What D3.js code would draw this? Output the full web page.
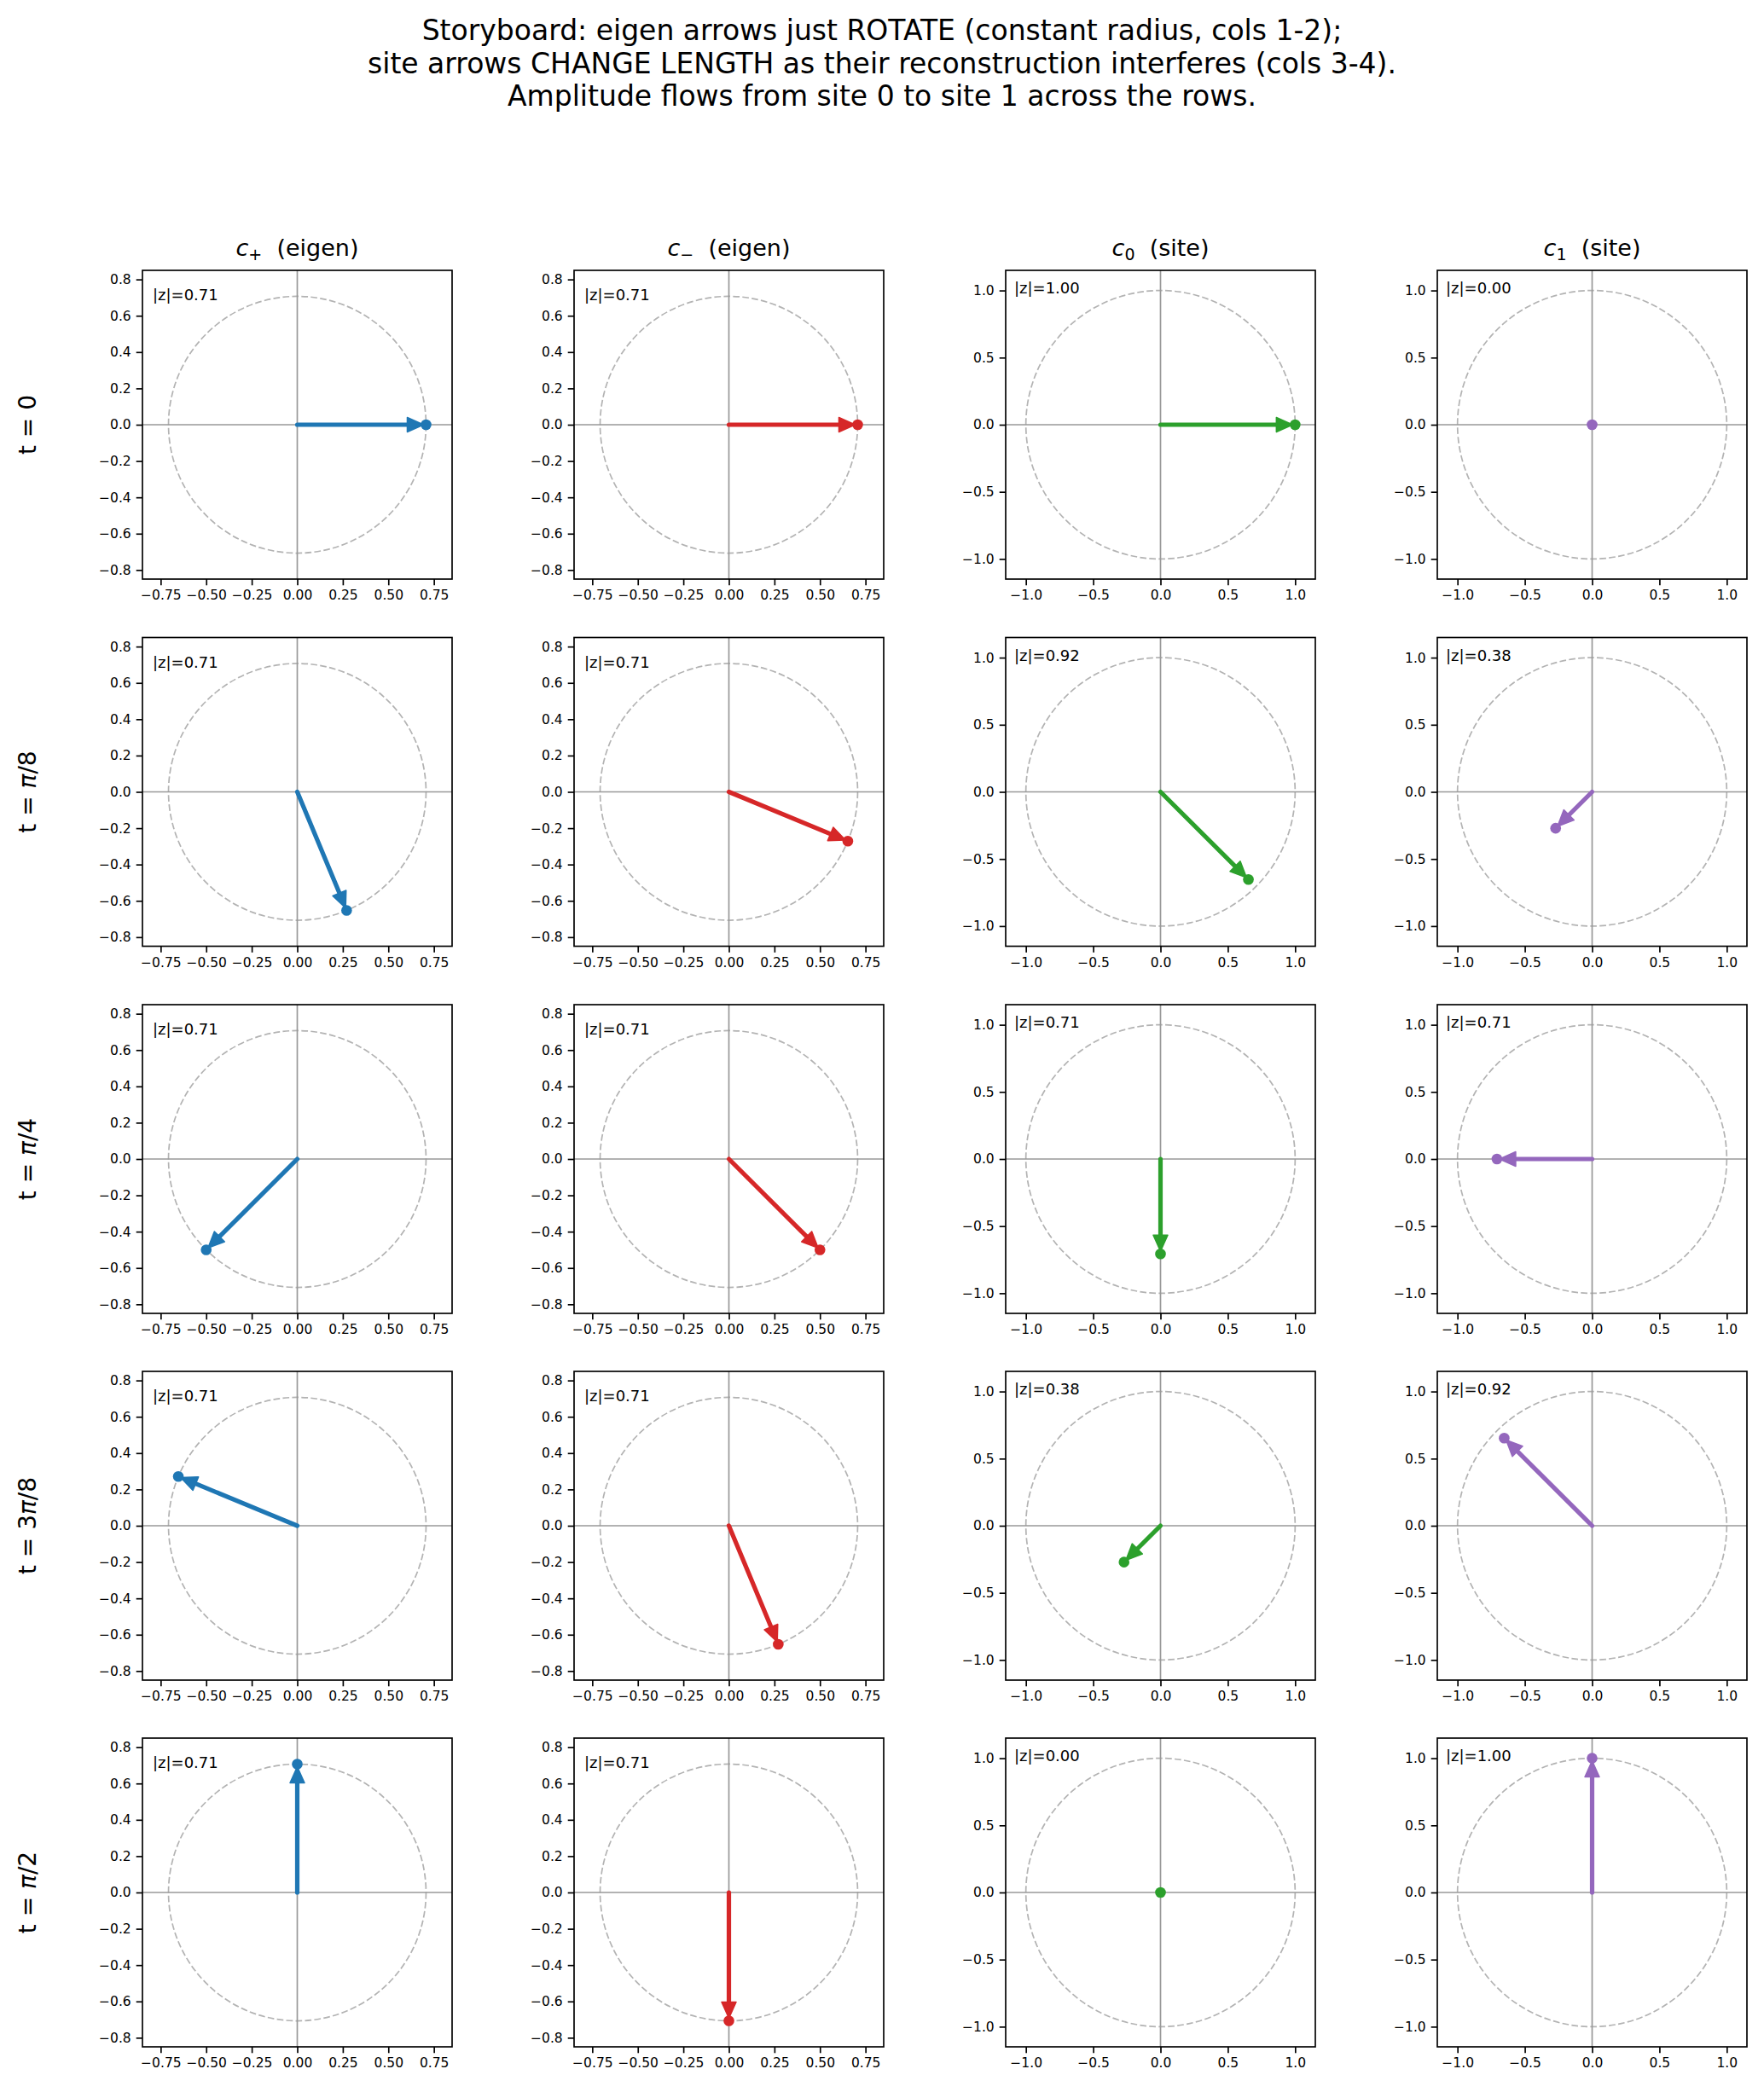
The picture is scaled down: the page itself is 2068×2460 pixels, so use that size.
<!DOCTYPE html>
<html><head><meta charset="utf-8">
<script src="https://cdn.jsdelivr.net/npm/d3@7"></script>
<style>
html,body{margin:0;padding:0;background:#fff;}
text{font-family:"DejaVu Sans",sans-serif;}
</style></head>
<body>
<svg id="fig" width="2068" height="2460"></svg>
<script>
// ---- data ----
const titleLines = [
  "Storyboard: eigen arrows just ROTATE (constant radius, cols 1-2);",
  "site arrows CHANGE LENGTH as their reconstruction interferes (cols 3-4).",
  "Amplitude flows from site 0 to site 1 across the rows."
];
const rowLabels = [["t = ","0",""],["t = ","π","/8"],["t = ","π","/4"],["t = 3","π","/8"],["t = ","π","/2"]];
const colSymbols = ["+","−","0","1"];
const colKinds = ["eigen","eigen","site","site"];
const colColors = ["#1f77b4","#d62728","#2ca02c","#9467bd"];

const cPlusRe  = [0.707, 0.271, -0.500, -0.653, 0.000];
const cPlusIm  = [0.000, -0.653, -0.500, 0.271, 0.707];
const cMinusRe = [0.707, 0.653, 0.500, 0.271, 0.000];
const cMinusIm = [0.000, -0.271, -0.500, -0.653, -0.707];
const c0Re     = [1.000, 0.653, 0.000, -0.271, 0.000];
const c0Im     = [0.000, -0.653, -0.707, -0.271, 0.000];
const c1Re     = [0.000, -0.271, -0.707, -0.653, 0.000];
const c1Im     = [0.000, -0.271, 0.000, 0.653, 1.000];

const magPlus  = ["0.71","0.71","0.71","0.71","0.71"];
const magMinus = ["0.71","0.71","0.71","0.71","0.71"];
const mag0     = ["1.00","0.92","0.71","0.38","0.00"];
const mag1     = ["0.00","0.38","0.71","0.92","1.00"];

const eigenRadius = 0.707, siteRadius = 1.0;
const eigenLim = 0.85, siteLim = 1.15;
const eigenXTicks = [-0.75,-0.5,-0.25,0,0.25,0.5,0.75];
const eigenYTicks = [-0.8,-0.6,-0.4,-0.2,0,0.2,0.4,0.6,0.8];
const siteTicks = [-1,-0.5,0,0.5,1];

const series = [
  {re:cPlusRe, im:cPlusIm, mag:magPlus},
  {re:cMinusRe, im:cMinusIm, mag:magMinus},
  {re:c0Re, im:c0Im, mag:mag0},
  {re:c1Re, im:c1Im, mag:mag1}
];

// ---- layout ----
const svg = d3.select("#fig");
svg.append("rect").attr("width",2068).attr("height",2460).attr("fill","#fff");
const colX = [167, 673, 1179, 1685];
const rowY = [317, 747.5, 1178, 1608, 2038];
const W = 363, H = 362;

const fmtMinus = s => s.replace("-", "−");

// title
const tt = svg.append("text").attr("text-anchor","middle").attr("font-size",33).attr("fill","#000");
titleLines.forEach((l,i)=>{
  tt.append("tspan").attr("x",1034).attr("y",47+i*38.5).text(l);
});

// row labels
rowLabels.forEach((rl,i)=>{
  const cy = rowY[i] + H/2;
  const t = svg.append("text").attr("transform",`translate(42,${cy}) rotate(-90)`)
    .attr("text-anchor","middle").attr("font-size",28).attr("fill","#000");
  t.append("tspan").text(rl[0]);
  t.append("tspan").attr("font-style", rl[1]==="π" ? "italic":"normal").text(rl[1]);
  if (rl[2]) t.append("tspan").text(rl[2]);
});

for (let c=0;c<4;c++){
  const kind = colKinds[c];
  const lim = kind==="eigen"? eigenLim : siteLim;
  const rad = kind==="eigen"? eigenRadius : siteRadius;
  const xt = kind==="eigen"? eigenXTicks : siteTicks;
  const yt = kind==="eigen"? eigenYTicks : siteTicks;
  const xfmt = kind==="eigen"? d3.format(".2f") : d3.format(".1f");
  const yfmt = d3.format(".1f");
  for (let r=0;r<5;r++){
    const g = svg.append("g").attr("transform",`translate(${colX[c]},${rowY[r]})`);
    const x = d3.scaleLinear().domain([-lim,lim]).range([0,W]);
    const y = d3.scaleLinear().domain([-lim,lim]).range([H,0]);
    const clipId = `clip${c}_${r}`;
    g.append("clipPath").attr("id",clipId).append("rect").attr("width",W).attr("height",H);
    const plot = g.append("g").attr("clip-path",`url(#${clipId})`);
    // unit circle (dashed)
    plot.append("ellipse").attr("cx",x(0)).attr("cy",y(0))
      .attr("rx",x(rad)-x(0)).attr("ry",y(0)-y(rad))
      .attr("fill","none").attr("stroke","#b3b3b3").attr("stroke-width",1.7)
      .attr("stroke-dasharray","7.7,3.3");
    // zero lines
    plot.append("line").attr("x1",0).attr("x2",W).attr("y1",y(0)).attr("y2",y(0))
      .attr("stroke","#999").attr("stroke-width",1.7);
    plot.append("line").attr("x1",x(0)).attr("x2",x(0)).attr("y1",0).attr("y2",H)
      .attr("stroke","#999").attr("stroke-width",1.7);
    // arrow
    const s = series[c];
    const px = x(s.re[r]), py = y(s.im[r]);
    const ox = x(0), oy = y(0);
    const dx = px-ox, dy = py-oy, L = Math.hypot(dx,dy);
    const col = colColors[c];
    if (L > 1) {
      const ux = dx/L, uy = dy/L;
      const tipL = L - 3;
      const headL = 19, headW = 8.5;
      const tx = ox+ux*tipL, ty = oy+uy*tipL;
      const bx = ox+ux*(tipL-headL), by = oy+uy*(tipL-headL);
      plot.append("line").attr("x1",ox).attr("y1",oy).attr("x2",ox+ux*(tipL-headL+2)).attr("y2",oy+uy*(tipL-headL+2))
        .attr("stroke",col).attr("stroke-width",5.2).attr("stroke-linecap","round");
      plot.append("path").attr("d",`M${tx},${ty}L${bx-uy*headW},${by+ux*headW}L${bx+uy*headW},${by-ux*headW}Z`)
        .attr("fill",col).attr("stroke",col).attr("stroke-width",1.5).attr("stroke-linejoin","round");
    }
    plot.append("circle").attr("cx",px).attr("cy",py).attr("r",6.3).attr("fill",col);
    // |z| label
    g.append("text").attr("x", kind==="eigen"? 12:10).attr("y", kind==="eigen"? 35:27)
      .attr("font-size",18).attr("fill","#000").text("|z|=" + s.mag[r]);
    // axes
    const xa = g.append("g").attr("transform",`translate(0,${H})`)
      .call(d3.axisBottom(x).tickValues(xt).tickFormat(d=>fmtMinus(xfmt(d))).tickSize(7.3).tickPadding(6));
    const ya = g.append("g")
      .call(d3.axisLeft(y).tickValues(yt).tickFormat(d=>fmtMinus(yfmt(d))).tickSize(7.3).tickPadding(6));
    [xa,ya].forEach(a=>{
      a.select(".domain").remove();
      a.selectAll(".tick line").attr("stroke","#000").attr("stroke-width",1.67);
      a.selectAll(".tick text").attr("font-size",15.5).attr("fill","#000").attr("font-family","DejaVu Sans");
    });
    g.append("rect").attr("width",W).attr("height",H).attr("fill","none")
      .attr("stroke","#000").attr("stroke-width",1.67);
    // column title
    if (r===0){
      const ct = g.append("text").attr("x",W/2).attr("y",-17).attr("text-anchor","middle")
        .attr("font-size",27).attr("fill","#000");
      ct.append("tspan").attr("font-style","italic").text("c");
      ct.append("tspan").attr("font-size",19).attr("dy",5).text(colSymbols[c]);
      ct.append("tspan").attr("dy",-5).text("\u00a0\u00a0(" + kind + ")");
    }
  }
}
</script>
</body></html>
